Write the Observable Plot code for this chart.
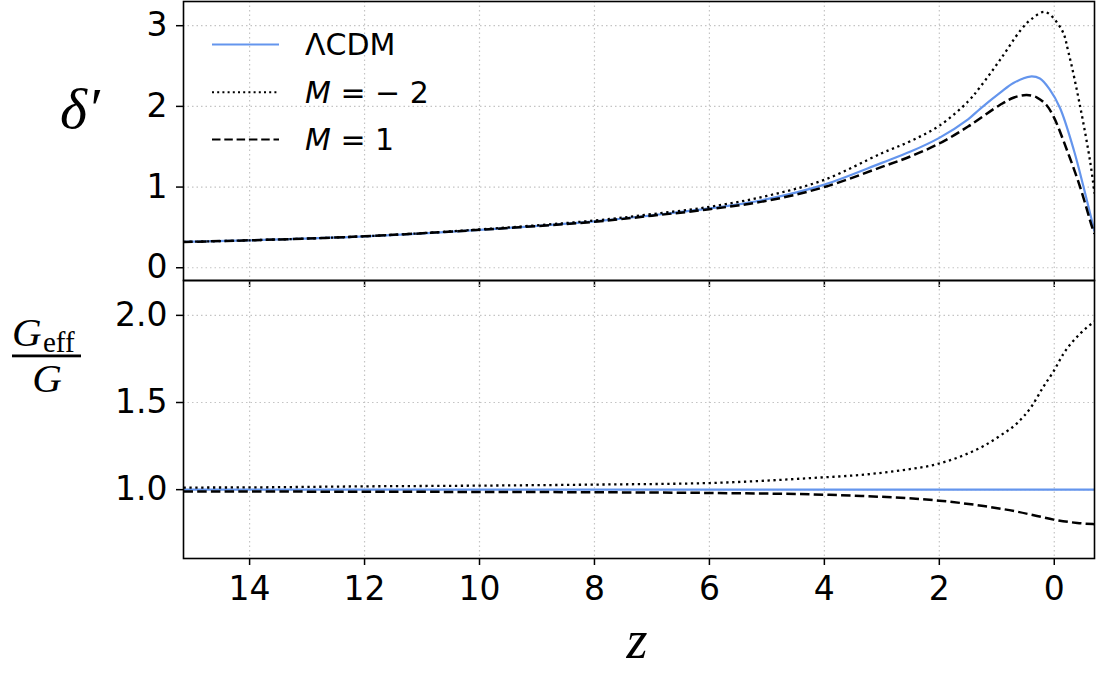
<!DOCTYPE html>
<html><head><meta charset="utf-8">
<script src="https://cdn.jsdelivr.net/npm/d3@7"></script>
<script src="https://cdn.jsdelivr.net/npm/@observablehq/plot@0.6"></script>
<style>
html,body{margin:0;padding:0;background:#fff;}
#wrap{position:relative;width:1097px;height:673px;overflow:hidden;font-family:"DejaVu Sans";}
#top,#bot,#ov{position:absolute;left:0;}
#top{top:0}#bot{top:280px}#ov{top:0;pointer-events:none}
</style></head><body>
<div id="wrap"><div id="top"></div><div id="bot"></div><svg id="ov" width="1097" height="673"></svg></div>
<script>
// ---- data ----
const seriesNames = ["ΛCDM", "M = − 2", "M = 1"];
const xTicks = [0, 2, 4, 6, 8, 10, 12, 14];
const yTicksTop = [0, 1, 2, 3];
const yTicksBot = [1.0, 1.5, 2.0];

// δ' (top panel)
const zLCDM = [15.15, 14, 12, 10, 8, 7, 6, 5, 4, 3, 2.5, 2, 1.5, 1.29, 0.94, 0.71, 0.42, 0.25, 0.08, -0.1, -0.34, -0.51, -0.7];
const dLCDM = [0.32, 0.34, 0.39, 0.47, 0.575, 0.65, 0.735, 0.85, 1.03, 1.30, 1.44, 1.61, 1.84, 1.97, 2.17, 2.29, 2.37, 2.345, 2.21, 1.98, 1.46, 1.0, 0.45];
const zM2 = [15.15, 14, 12, 10, 8, 7, 6, 5, 4, 3, 2.5, 2, 1.5, 1.29, 0.94, 0.59, 0.4, 0.16, -0.13, -0.25, -0.45, -0.63, -0.7];
const dM2 = [0.32, 0.34, 0.39, 0.475, 0.585, 0.665, 0.755, 0.89, 1.09, 1.42, 1.57, 1.76, 2.06, 2.24, 2.58, 2.94, 3.08, 3.17, 2.95, 2.66, 2.0, 1.29, 0.92];
const zM1 = [15.15, 14, 12, 10, 8, 7, 6, 5, 4, 3, 2.5, 2, 1.5, 0.94, 0.7, 0.48, 0.3, 0.14, 0.01, -0.22, -0.45, -0.66, -0.7];
const dM1 = [0.32, 0.34, 0.39, 0.47, 0.57, 0.645, 0.725, 0.83, 1.0, 1.25, 1.38, 1.54, 1.75, 2.02, 2.11, 2.14, 2.11, 2.02, 1.87, 1.46, 1.0, 0.5, 0.42];

// G_eff/G (bottom panel)
const zGL = [15.15, -0.7];
const gLCDM = [1.0, 1.0];
const zGM2 = [15.15, 14, 12, 10, 8, 6, 4, 3.55, 2.68, 2, 1.52, 1.23, 0.94, 0.65, 0.39, 0.19, 0.01, -0.16, -0.45, -0.7];
const gM2 = [1.012, 1.013, 1.019, 1.023, 1.029, 1.038, 1.071, 1.08, 1.11, 1.15, 1.205, 1.25, 1.31, 1.38, 1.48, 1.59, 1.68, 1.78, 1.895, 1.965];
const zGM1 = [15.15, 12, 8, 6, 4, 3.55, 2, 1.23, 0.65, 0.3, 0.01, -0.4, -0.7];
const gM1 = [0.99, 0.988, 0.985, 0.981, 0.971, 0.966, 0.937, 0.906, 0.874, 0.849, 0.828, 0.809, 0.802];

const rows = (zs, vs) => zs.map((z, i) => ({z, v: vs[i]}));

const blue = "#6495ED";
const styles = [
  {stroke: blue, strokeWidth: 2.2, strokeLinecap: "butt"},
  {stroke: "black", strokeWidth: 2.3, strokeDasharray: "2.3,3.6", strokeLinecap: "butt"},
  {stroke: "black", strokeWidth: 2.5, strokeDasharray: "9.5,4.2", strokeLinecap: "butt"}
];

const W = 1097;
const xDomain = [15.15, -0.70];
const grid = {stroke: "#c4c4c4", strokeOpacity: 1, strokeWidth: 1.2, strokeDasharray: "1.5,3"};
const baseStyle = {fontFamily: "DejaVu Sans", fontSize: "33px", overflow: "visible", background: "transparent", color: "black"};

const topPlot = Plot.plot({
  width: W, height: 280,
  marginLeft: 183, marginRight: 3, marginTop: 1, marginBottom: 0,
  style: baseStyle,
  x: {domain: xDomain, label: null},
  y: {domain: [-0.158, 3.30], label: null},
  marks: [
    Plot.gridX(xTicks, grid),
    Plot.gridY(yTicksTop, grid),
    Plot.line(rows(zLCDM, dLCDM), {x: "z", y: "v", curve: "catmull-rom", clip: true, ...styles[0]}),
    Plot.line(rows(zM2, dM2), {x: "z", y: "v", curve: "catmull-rom", clip: true, ...styles[1]}),
    Plot.line(rows(zM1, dM1), {x: "z", y: "v", curve: "catmull-rom", clip: true, ...styles[2]}),
    Plot.axisY({ticks: yTicksTop, tickFormat: d => String(d), tickSize: 7, tickPadding: 9, strokeWidth: 1.5, fontSize: 33, label: null}),
    Plot.axisX({ticks: xTicks, tickSize: 7, tickFormat: () => "", strokeWidth: 1.5, label: null}),
    Plot.frame({stroke: "black", strokeWidth: 1.6})
  ]
});
document.getElementById("top").appendChild(topPlot);

const botPlot = Plot.plot({
  width: W, height: 393,
  marginLeft: 183, marginRight: 3, marginTop: 0, marginBottom: 115,
  style: baseStyle,
  x: {domain: xDomain, label: null},
  y: {domain: [0.605, 2.20], label: null},
  marks: [
    Plot.gridX(xTicks, grid),
    Plot.gridY(yTicksBot, grid),
    Plot.line(rows(zGL, gLCDM), {x: "z", y: "v", clip: true, ...styles[0]}),
    Plot.line(rows(zGM2, gM2), {x: "z", y: "v", curve: "monotone-x", clip: true, ...styles[1]}),
    Plot.line(rows(zGM1, gM1), {x: "z", y: "v", curve: "monotone-x", clip: true, ...styles[2]}),
    Plot.axisY({ticks: yTicksBot, tickFormat: d => d.toFixed(1), tickSize: 7, tickPadding: 9, strokeWidth: 1.5, fontSize: 33, label: null}),
    Plot.axisX({ticks: xTicks, tickFormat: d => String(d), tickSize: 7, tickPadding: 11, strokeWidth: 1.5, fontSize: 33, label: null}),
    Plot.frame({stroke: "black", strokeWidth: 1.6})
  ]
});
document.getElementById("bot").appendChild(botPlot);

// ---- overlay: axis labels and legend ----
const ov = d3.select("#ov");
const serif = '"Liberation Serif", "DejaVu Serif", serif';
ov.append("text").attr("x", 60).attr("y", 128).attr("font-family", serif).attr("font-style", "italic")
  .attr("font-size", 58).text("δ′");
// G_eff / G
ov.append("text").attr("x", 12).attr("y", 346).attr("font-family", serif).attr("font-style", "italic")
  .attr("font-size", 41).text("G");
ov.append("text").attr("x", 43).attr("y", 352).attr("font-family", serif)
  .attr("font-size", 29).text("eff");
ov.append("rect").attr("x", 12).attr("y", 354.5).attr("width", 69).attr("height", 2.8).attr("fill", "black");
ov.append("text").attr("x", 47).attr("y", 392).attr("text-anchor", "middle").attr("font-family", serif).attr("font-style", "italic")
  .attr("font-size", 41).text("G");
// z
ov.append("text").attr("x", 637).attr("y", 658).attr("text-anchor", "middle").attr("font-family", serif).attr("font-style", "italic")
  .attr("font-size", 54).text("z");

// legend
const legY = [44.5, 92.3, 139.5];
seriesNames.forEach((name, i) => {
  const s = styles[i];
  ov.append("line").attr("x1", 212).attr("x2", 279).attr("y1", legY[i]).attr("y2", legY[i])
    .attr("stroke", s.stroke).attr("stroke-width", i === 0 ? 2 : s.strokeWidth * 0.85)
    .attr("stroke-dasharray", i === 1 ? "2,3.2" : i === 2 ? "8.5,3.8" : null);
  const t = ov.append("text").attr("x", 305).attr("y", legY[i] + 10.5).attr("font-family", "DejaVu Sans").attr("font-size", 30);
  if (i === 0) t.text(name);
  else {
    const parts = name.split(" ");
    t.append("tspan").attr("font-style", "italic").text(parts[0]);
    t.append("tspan").text(" " + parts.slice(1).join(" "));
  }
});
</script>
</body></html>
